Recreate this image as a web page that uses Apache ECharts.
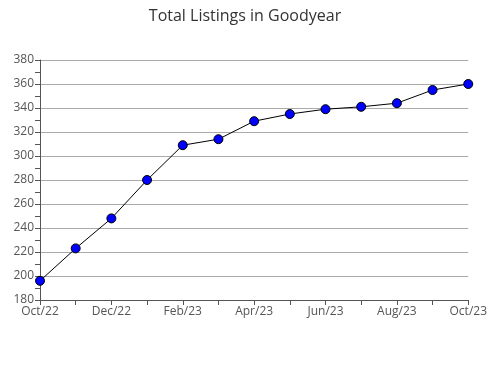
<!DOCTYPE html>
<html><head><meta charset="utf-8">
<script src="https://cdn.jsdelivr.net/npm/echarts@6/dist/echarts.min.js"></script>
<style>html,body{margin:0;padding:0;background:#fff}#c{width:490px;height:380px}</style>
</head><body><div id="c"></div>
<script>
const categories = ["Oct/22","Nov/22","Dec/22","Jan/23","Feb/23","Mar/23","Apr/23","May/23","Jun/23","Jul/23","Aug/23","Sep/23","Oct/23"];
const listings = [196, 223, 248, 280, 309, 314, 329, 335, 339, 341, 344, 355, 360];
const yTicks = [180, 200, 220, 240, 260, 280, 300, 320, 340, 360, 380];

const chart = echarts.init(document.getElementById('c'));
chart.setOption({
  animation: false,
  title: {text: 'Total Listings in Goodyear', left: 'center', top: 3,
    textStyle: {fontFamily: 'Open Sans', fontWeight: 'normal', fontSize: 16, color: '#333'}},
  grid: {left: 40, right: 19, top: 60, bottom: 80, containLabel: false},
  xAxis: {type: 'category', data: categories, boundaryGap: false,
    axisLine: {lineStyle: {color: '#555', width: 1}},
    axisTick: {show: true, interval: 0, length: 5, lineStyle: {color: '#555'}},
    axisLabel: {interval: 1, fontFamily: 'Open Sans', fontSize: 12, color: '#555', margin: 6},
    splitLine: {show: false}},
  yAxis: {type: 'value', min: yTicks[0], max: yTicks[yTicks.length-1], interval: 20,
    axisLine: {show: true, lineStyle: {color: '#555', width: 1}},
    axisTick: {show: true, length: 5, lineStyle: {color: '#555'}},
    minorTick: {show: true, splitNumber: 2, length: 5, lineStyle: {color: '#555'}},
    axisLabel: {fontFamily: 'Open Sans', fontSize: 12, color: '#555', margin: 6},
    splitLine: {show: true, lineStyle: {color: '#aaa', width: 1}}},
  series: [{type: 'line', data: listings, symbol: 'circle', symbolSize: 9,
    lineStyle: {color: '#000', width: 1},
    itemStyle: {color: '#0000ff', borderColor: '#000', borderWidth: 1}}]
});
</script></body></html>
